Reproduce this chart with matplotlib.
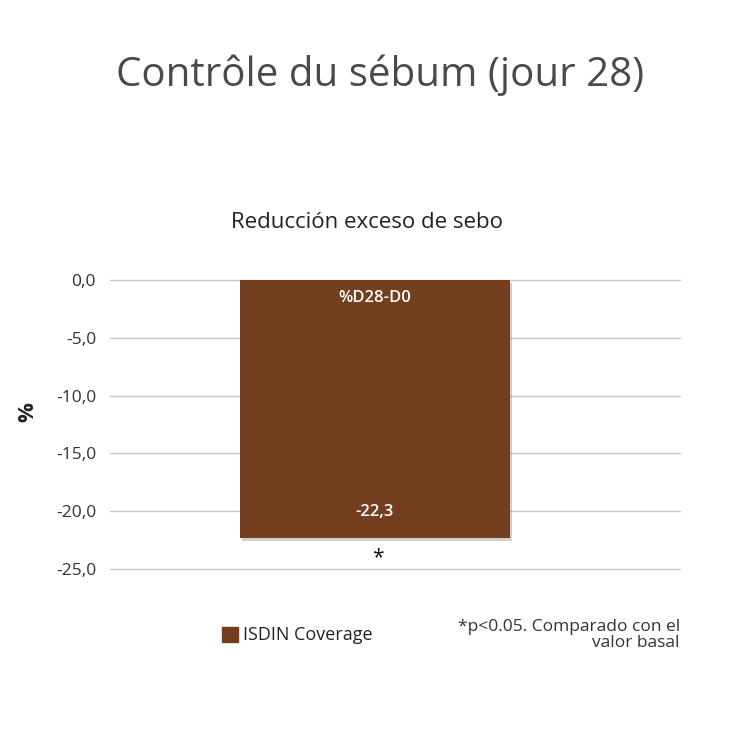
import matplotlib.pyplot as plt
import matplotlib.patheffects as pe

# data
categories = ['ISDIN Coverage']
values = [-22.3]
value_labels = ['-22,3']
yticks = [0, -5, -10, -15, -20, -25]
ytick_labels = ['0,0', '-5,0', '-10,0', '-15,0', '-20,0', '-25,0']

plt.rcParams['font.family'] = ['Open Sans', 'DejaVu Sans']

brown = '#733f1f'
fig = plt.figure(figsize=(7.5, 7.5), dpi=100)
ax = fig.add_axes([110 / 750, 1 - 569 / 750, 570 / 750, 289 / 750])

bars = ax.bar(range(len(values)), values, width=0.8, color=brown, zorder=3)
for b in bars:
    b.set_path_effects([pe.SimplePatchShadow(offset=(1.5, -2), alpha=0.2), pe.Normal()])

ax.set_xlim(-0.785, 0.904)
ax.set_ylim(-25, 0)
ax.set_yticks(yticks)
ax.set_yticklabels(ytick_labels, fontsize=12.5, color='#333333')
ax.set_xticks([])
ax.tick_params(axis='y', length=0, pad=10)
ax.grid(axis='y', color='#c8c8c8', lw=1, zorder=0)
for s in ax.spines.values():
    s.set_visible(False)
for gl in ax.get_ygridlines():
    gl.set_clip_on(False)

ax.set_ylabel('%', fontsize=16, color='#222222', fontweight='bold')
ax.yaxis.set_label_coords(-0.125, 0.543)

for i, v in enumerate(values):
    ax.text(i, -1.55, '%D28-D0', ha='center', va='center', color='white', fontsize=12, fontweight='semibold')
    ax.text(i, v + 2.2, value_labels[i], ha='center', va='center', color='white', fontsize=12, fontweight='semibold')
    ax.text(i + 0.01, v - 1.7, '*', ha='center', va='center', color='#111111', fontsize=15)

fig.text(380 / 750, 1 - 75 / 750, 'Contrôle du sébum (jour 28)', ha='center', va='center',
         fontsize=29, color='#4a4a4a')
fig.text(367 / 750, 1 - 223 / 750, 'Reducción exceso de sebo', ha='center', va='center',
         fontsize=16, color='#222222')

# legend
fig.patches.append(plt.Rectangle((222 / 750, 1 - 642 / 750), 16 / 750, 15 / 750,
                                 transform=fig.transFigure, color=brown))
fig.text(243 / 750, 1 - 635 / 750, categories[0], ha='left', va='center', fontsize=13, color='#222222')
fig.text(680 / 750, 1 - 635 / 750, '*p<0.05. Comparado con el\nvalor basal', ha='right', va='center',
         fontsize=12.5, color='#333333', linespacing=1.0, multialignment='right')

fig.savefig('out.png', dpi=100, facecolor='white')
